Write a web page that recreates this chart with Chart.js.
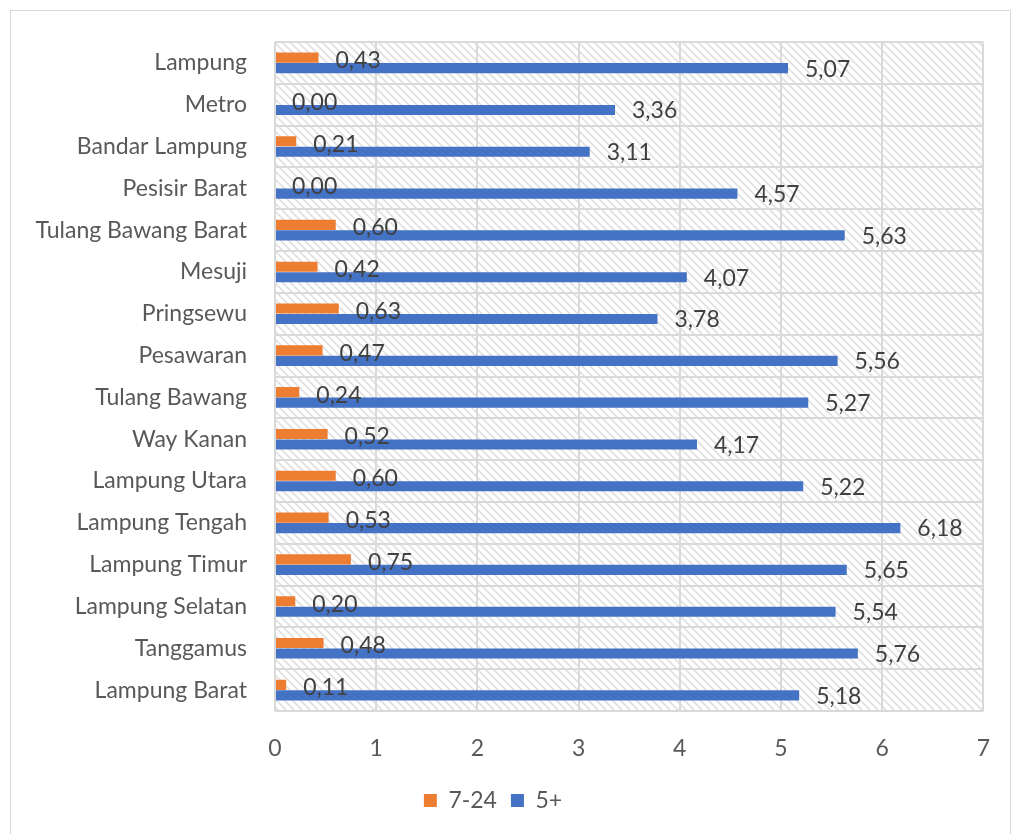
<!DOCTYPE html>
<html>
<head>
<meta charset="utf-8">
<script src="https://cdn.jsdelivr.net/npm/chart.js@4/dist/chart.umd.min.js"></script>
<style>
  html, body { margin: 0; padding: 0; background: #fff; }
  #wrap { position: absolute; left: 0; top: 0; width: 1014px; height: 834px; }
  #frame { position: absolute; left: 10px; top: 10px; width: 1001px; height: 830px; border: 1.5px solid #d9d9d9; box-sizing: border-box; }
</style>
</head>
<body>
<div id="wrap">
  <div id="frame"></div>
  <canvas id="chart" width="1014" height="834"></canvas>
</div>
<script>
/* kabupaten/kota, urut dari atas ke bawah */
const regions = ["Lampung", "Metro", "Bandar Lampung", "Pesisir Barat", "Tulang Bawang Barat", "Mesuji",
    "Pringsewu", "Pesawaran", "Tulang Bawang", "Way Kanan", "Lampung Utara", "Lampung Tengah",
    "Lampung Timur", "Lampung Selatan", "Tanggamus", "Lampung Barat"];
const values724 = [0.43, 0.00, 0.21, 0.00, 0.60, 0.42, 0.63, 0.47, 0.24, 0.52, 0.60, 0.53, 0.75, 0.20, 0.48, 0.11];
const values5plus = [5.07, 3.36, 3.11, 4.57, 5.63, 4.07, 3.78, 5.56, 5.27, 4.17, 5.22, 6.18, 5.65, 5.54, 5.76, 5.18];
const xTicks = [0, 1, 2, 3, 4, 5, 6, 7];

const FONT = "Lato, 'Liberation Sans', sans-serif";
const TEXT = "#595959";
const SIZE = 23;

/* pola arsir diagonal untuk latar area plot */
function makeHatch() {
    const c = document.createElement("canvas");
    c.width = 8; c.height = 8;
    const g = c.getContext("2d");
    g.fillStyle = "#fff";
    g.fillRect(0, 0, 8, 8);
    g.strokeStyle = "#e0e0e0";
    g.lineWidth = 1.6;
    g.beginPath();
    g.moveTo(-1, -1); g.lineTo(9, 9);
    g.moveTo(-5, 3); g.lineTo(5, 13);
    g.moveTo(3, -5); g.lineTo(13, 5);
    g.stroke();
    return c;
}

const hatchBg = {
    id: "hatchBg",
    beforeDraw(chart) {
        const { ctx, chartArea: a } = chart;
        ctx.save();
        ctx.fillStyle = ctx.createPattern(makeHatch(), "repeat");
        ctx.fillRect(a.left, a.top, a.right - a.left, a.bottom - a.top);
        ctx.restore();
    }
};

/* label nilai di ujung batang, format koma */
const valueLabels = {
    id: "valueLabels",
    afterDatasetsDraw(chart) {
        const ctx = chart.ctx;
        ctx.save();
        ctx.font = SIZE + "px " + FONT;
        ctx.fillStyle = "#404040";
        ctx.textAlign = "left";
        ctx.textBaseline = "middle";
        chart.data.datasets.forEach((ds, i) => {
            chart.getDatasetMeta(i).data.forEach((bar, j) => {
                const txt = ds.data[j].toFixed(2).replace(".", ",");
                ctx.fillText(txt, bar.x + 17, bar.y + (i === 0 ? 3 : 1));
            });
        });
        ctx.restore();
    }
};

const ctx = document.getElementById("chart").getContext("2d");
const chart = new Chart(ctx, {
    type: "bar",
    data: {
        labels: regions,
        datasets: [
            { label: "7-24", data: values724, backgroundColor: "#ED7D31" },
            { label: "5+", data: values5plus, backgroundColor: "#4472C4" }
        ]
    },
    options: {
        indexAxis: "y",
        responsive: false,
        animation: false,
        datasets: { bar: { categoryPercentage: 0.5, barPercentage: 0.97 } },
        layout: { padding: { left: 0, top: 42, right: 28, bottom: 12 } },
        scales: {
            x: {
                min: 0, max: 7,
                afterBuildTicks: (s) => { s.ticks = xTicks.map(v => ({ value: v })); },
                afterFit: (s) => { s.height = 64; },
                grid: { color: "#d9d9d9", lineWidth: 2, drawTicks: false },
                border: { display: false },
                ticks: { color: TEXT, font: { family: FONT, size: SIZE }, padding: 24 }
            },
            y: {
                afterFit: (s) => { s.width = 275; },
                grid: { color: "#d9d9d9", lineWidth: 2, drawTicks: false, offset: true },
                border: { display: false },
                ticks: { color: TEXT, font: { family: FONT, size: SIZE }, padding: 28 }
            }
        },
        plugins: {
            legend: {
                position: "bottom",
                labels: { color: TEXT, font: { family: FONT, size: SIZE }, boxWidth: 13, boxHeight: 13, padding: 14 }
            },
            tooltip: { enabled: false }
        }
    },
    plugins: [hatchBg, valueLabels]
});
</script>
</body>
</html>
